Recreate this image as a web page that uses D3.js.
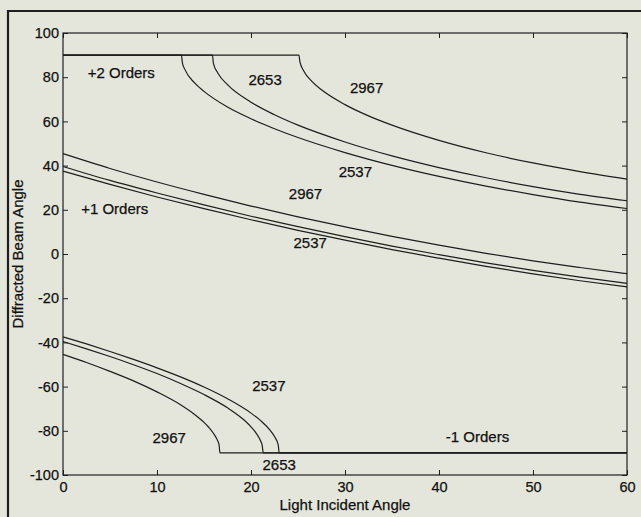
<!DOCTYPE html>
<html>
<head>
<meta charset="utf-8">
<script src="https://cdn.jsdelivr.net/npm/d3@7"></script>
<style>
  body { margin: 0; background: #e5e6db; }
  svg { display: block; font-family: "Liberation Sans", Arial, sans-serif; }
</style>
</head>
<body>
<div id="chart"></div>
<script>
// [incident angle, diffracted angle]
var plus2_2537 = [[0,90],[12.6,90],[12.7,86.5],[13,83.2],[14,77.4],[15,73.6],[17.5,66.5],[20,61.2],[22.5,56.7],[25,52.7],[30,45.9],[35,40.1],[40,35.1],[45,30.7],[50,26.9],[55,23.5],[60,20.6]];
var plus2_2653 = [[0,90],[15.9,90],[16,86.3],[16.5,81.7],[17.5,76.6],[20,68.7],[22.5,63.0],[25,58.3],[30,50.7],[35,44.4],[40,39.1],[45,34.5],[50,30.5],[55,27.0],[60,24.1]];
var plus2_2967 = [[0,90],[25.1,90],[25.2,87.0],[25.6,82.9],[26.5,78.0],[27.5,74.3],[30,67.6],[32.5,62.5],[35,58.3],[40,51.4],[45,45.8],[50,41.2],[55,37.3],[60,33.9]];

var plus1_2537 = [[0,37.5],[5,31.5],[10,25.8],[15,20.5],[20,15.5],[25,10.7],[30,6.3],[35,2.0],[40,-1.9],[45,-5.6],[50,-9.0],[55,-12.1],[60,-14.9]];
var plus1_2653 = [[0,39.6],[5,33.3],[10,27.6],[15,22.2],[20,17.1],[25,12.4],[30,7.9],[35,3.6],[40,-0.3],[45,-4.0],[50,-7.4],[55,-10.5],[60,-13.3]];
var plus1_2967 = [[0,45.4],[5,38.7],[10,32.6],[15,27.0],[20,21.7],[25,16.8],[30,12.3],[35,8.0],[40,4.0],[45,0.3],[50,-3.1],[55,-6.1],[60,-8.9]];

var minus1_2537 = [[0,-37.5],[2.5,-40.7],[5,-44.1],[7.5,-47.7],[10,-51.5],[12.5,-55.6],[15,-60.2],[17.5,-65.5],[20,-72.0],[21,-75.3],[22,-79.6],[22.5,-82.6],[22.9,-86.5],[23.0,-90],[60,-90]];
var minus1_2653 = [[0,-39.6],[2.5,-42.9],[5,-46.4],[7.5,-50.1],[10,-54.1],[12.5,-58.6],[15,-63.6],[17.5,-69.6],[19,-74.2],[20,-78.2],[20.5,-80.8],[21,-84.4],[21.2,-86.8],[21.3,-90],[60,-90]];
var minus1_2967 = [[0,-45.4],[2.5,-49.1],[5,-53.1],[7.5,-57.4],[10,-62.4],[12.5,-68.2],[14,-72.6],[15,-76.2],[15.5,-78.4],[16,-81.1],[16.4,-84.0],[16.6,-86.3],[16.7,-90],[60,-90]];

var xTicks = [0, 10, 20, 30, 40, 50, 60];
var yTicks = [-100, -80, -60, -40, -20, 0, 20, 40, 60, 80, 100];

// text notes on the plot (data coords of text centre)
var noteText = ["+2 Orders", "2653", "2967", "2537", "2967", "+1 Orders", "2537", "2537", "2967", "2653", "-1 Orders"];
var noteX = [6.2, 21.5, 32.3, 31.1, 25.8, 5.5, 26.3, 21.9, 11.3, 23.0, 44.1];
var noteY = [81.9, 78.7, 75.1, 37.1, 27.5, 20.4, 5.0, -59.7, -83.3, -95.5, -82.4];

var width = 641, height = 517;
// plot box (note: "top" is taken by window.top, so use other names)
var boxL = 63, boxR = 627, boxT = 33, boxB = 475;
var ink = "#1e1e1e";

var svg = d3.select("#chart").append("svg")
    .attr("width", width)
    .attr("height", height);

svg.append("rect").attr("width", width).attr("height", height).attr("fill", "#e5e6db");

// scanned page frame (top and left edge)
svg.append("line").attr("x1", 7).attr("x2", width).attr("y1", 11).attr("y2", 11)
    .attr("stroke", ink).attr("stroke-width", 2.2);
svg.append("line").attr("x1", 8).attr("x2", 8).attr("y1", 10).attr("y2", height)
    .attr("stroke", ink).attr("stroke-width", 2.2);

var xScale = d3.scaleLinear().domain([0, 60]).range([boxL, boxR]);
var yScale = d3.scaleLinear().domain([-100, 100]).range([boxB, boxT]);

// plain hyphen minus like the original, not d3's unicode minus
var plainFmt = function(d) { return String(d); };

// axes, ticks pointing inward like matlab
function styleAxis(g) {
    g.select(".domain").remove();
    g.selectAll(".tick line").attr("stroke", ink).attr("stroke-width", 1);
    g.selectAll(".tick text").attr("fill", "#111").attr("font-size", "14.5px")
        .attr("font-family", "'Liberation Sans', Arial, sans-serif")
        .attr("stroke", "#111").attr("stroke-width", 0.25);
}

svg.append("g")
    .attr("transform", "translate(0," + boxB + ")")
    .call(d3.axisBottom(xScale).tickValues(xTicks).tickSize(-5).tickPadding(7).tickFormat(plainFmt))
    .call(styleAxis);
svg.append("g")
    .attr("transform", "translate(0," + boxT + ")")
    .call(d3.axisTop(xScale).tickValues(xTicks).tickSize(-5).tickFormat(""))
    .call(styleAxis);
svg.append("g")
    .attr("transform", "translate(" + boxL + ",0)")
    .call(d3.axisLeft(yScale).tickValues(yTicks).tickSize(-5).tickPadding(4).tickFormat(plainFmt))
    .call(styleAxis);
svg.append("g")
    .attr("transform", "translate(" + boxR + ",0)")
    .call(d3.axisRight(yScale).tickValues(yTicks).tickSize(-5).tickFormat(""))
    .call(styleAxis);

svg.append("rect")
    .attr("x", boxL).attr("y", boxT)
    .attr("width", boxR - boxL).attr("height", boxB - boxT)
    .attr("fill", "none").attr("stroke", ink).attr("stroke-width", 1.2);

// curves
var line = d3.line()
    .x(function(d) { return xScale(d[0]); })
    .y(function(d) { return yScale(d[1]); })
    .curve(d3.curveMonotoneX);

var allCurves = [plus2_2537, plus2_2653, plus2_2967,
                 plus1_2537, plus1_2653, plus1_2967,
                 minus1_2537, minus1_2653, minus1_2967];

svg.selectAll("path.curve").data(allCurves).enter()
    .append("path")
    .attr("class", "curve")
    .attr("d", line)
    .attr("fill", "none")
    .attr("stroke", ink)
    .attr("stroke-width", 1.2);

// notes
svg.selectAll("text.note").data(noteText).enter()
    .append("text")
    .attr("class", "note")
    .attr("x", function(d, i) { return xScale(noteX[i]); })
    .attr("y", function(d, i) { return yScale(noteY[i]); })
    .attr("dy", "0.36em")
    .attr("text-anchor", "middle")
    .attr("font-size", "15px")
    .attr("fill", "#111")
    .attr("stroke", "#111").attr("stroke-width", 0.25)
    .text(function(d) { return d; });

// axis titles
svg.append("text")
    .attr("x", (boxL + boxR) / 2)
    .attr("y", 510)
    .attr("text-anchor", "middle")
    .attr("font-size", "15px")
    .attr("fill", "#111")
    .attr("stroke", "#111").attr("stroke-width", 0.25)
    .text("Light Incident Angle");

svg.append("text")
    .attr("transform", "translate(23," + ((boxT + boxB) / 2) + ") rotate(-90)")
    .attr("text-anchor", "middle")
    .attr("font-size", "15px")
    .attr("fill", "#111")
    .attr("stroke", "#111").attr("stroke-width", 0.25)
    .text("Diffracted Beam Angle");
</script>
</body>
</html>
